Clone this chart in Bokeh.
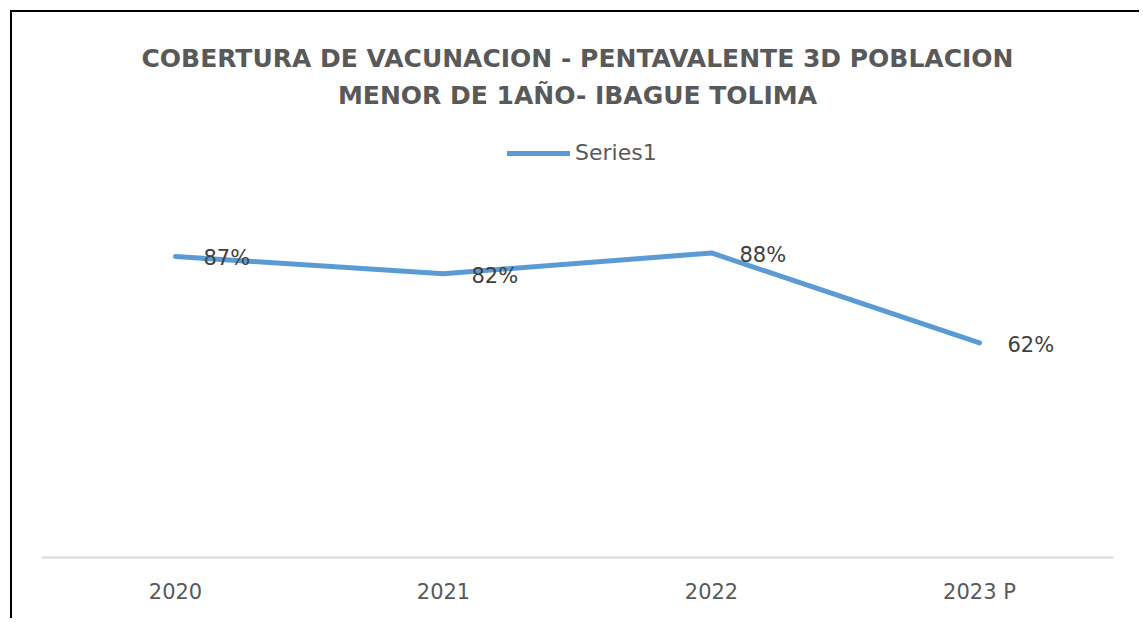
from bokeh.plotting import figure
from bokeh.models import ColumnDataSource, Range1d, Label, Legend, LegendItem
from bokeh.core.properties import value
from bokeh.embed import file_html
from bokeh.resources import INLINE

years = ["2020", "2021", "2022", "2023 P"]
coverage = [87, 82, 88, 62]
labels = ["87%", "82%", "88%", "62%"]
series_name = "Series1"
title_lines = ["COBERTURA DE VACUNACION - PENTAVALENTE 3D POBLACION",
               "MENOR DE 1AÑO- IBAGUE TOLIMA"]

FONT = "DejaVu Sans"
src = ColumnDataSource(dict(x=years, y=coverage, lab=labels))

p = figure(x_range=years, y_range=Range1d(0, 157.5), width=1129, height=608,
           output_backend="svg", toolbar_location=None, y_axis_location=None,
           min_border_left=29, min_border_right=28, min_border_top=0,
           min_border_bottom=63, title=None)
p.styles = {"border-left": "2px solid black", "border-top": "2px solid black",
            "margin-left": "10px", "margin-top": "10px"}
p.outline_line_color = None
p.xgrid.visible = False
p.ygrid.visible = False
p.x_range.range_padding = 0

ln = p.line("x", "y", source=src, line_color="#5B9BD5", line_width=5, line_cap="round", line_join="round")
p.text("x", "y", text="lab", source=src, x_offset=28, y_offset=2,
       text_align="left", text_baseline="middle", text_font=value(FONT),
       text_font_size="21px", text_color="#404040")

ax = p.xaxis[0]
ax.axis_line_color = "#D9D9D9"
ax.axis_line_width = 2
ax.major_tick_line_color = None
ax.minor_tick_line_color = None
ax.major_label_text_font = FONT
ax.major_label_text_font_size = "21px"
ax.major_label_text_color = "#595959"
ax.major_label_standoff = 16

for t, yy in zip(title_lines, [144.2, 133.6]):
    p.add_layout(Label(x=2.0, y=yy, text=t, text_align="center", text_baseline="middle",
                       text_font=FONT, text_font_style="bold", text_font_size="25px",
                       text_color="#595959"))

leg = Legend(items=[LegendItem(label=series_name, renderers=[ln])],
             orientation="horizontal", label_text_font=FONT, label_text_font_size="22px",
             label_text_color="#595959", glyph_width=63, border_line_color=None,
             background_fill_alpha=0, margin=0, padding=0, label_standoff=5)
leg.location = (466, 392)
p.add_layout(leg)

open("out.html", "w").write(file_html(p, INLINE))
